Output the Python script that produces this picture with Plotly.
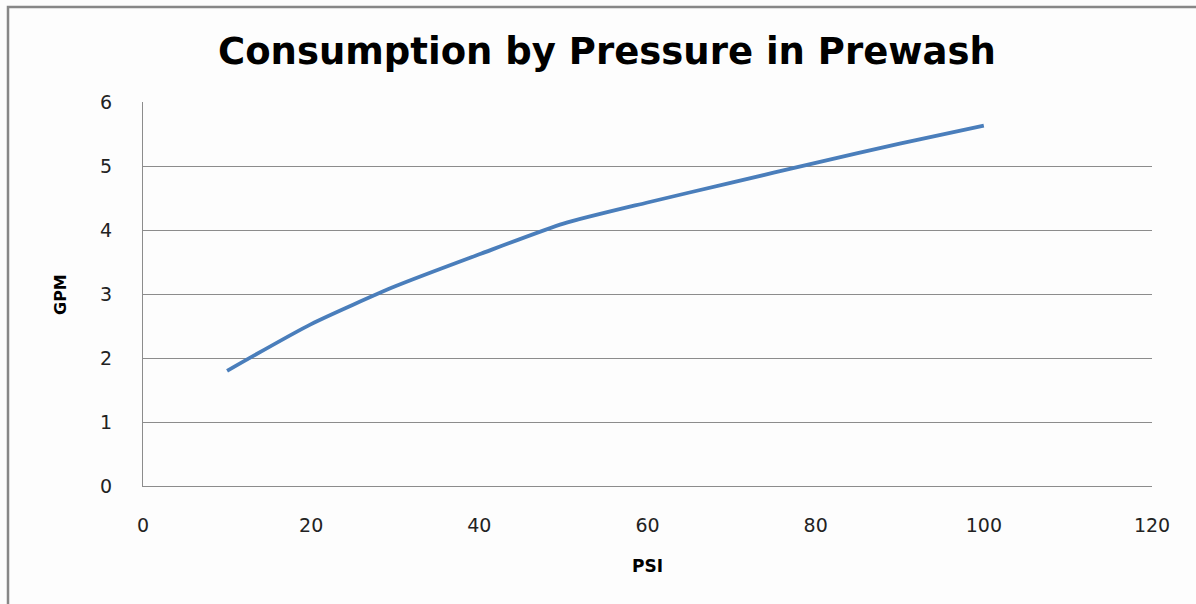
import plotly.graph_objects as go

psi = [10, 20, 30, 40, 50, 60, 70, 80, 90, 100]
gpm = [1.80, 2.53, 3.12, 3.62, 4.10, 4.43, 4.74, 5.05, 5.35, 5.63]

title_text = "Consumption by Pressure in Prewash"
x_title = "PSI"
y_title = "GPM"
x_ticks = [0, 20, 40, 60, 80, 100, 120]
y_ticks = [0, 1, 2, 3, 4, 5, 6]

W, H = 1196, 604
L, R, T, B = 143, 44, 102, 118
pw, ph = W - L - R, H - T - B

fig = go.Figure()
fig.add_trace(go.Scatter(
    x=psi, y=gpm, mode="lines",
    line=dict(color="#4a7ebb", width=3.8, shape="spline", smoothing=0.6),
    hoverinfo="x+y", showlegend=False,
))

grid = "#8c8c8c"
tickfont = dict(family="DejaVu Sans", size=19, color="#222222")

fig.update_layout(
    width=W, height=H,
    margin=dict(l=L, r=R, t=T, b=B, autoexpand=False),
    paper_bgcolor="#fdfdfd", plot_bgcolor="#fdfdfd",
    xaxis=dict(range=[0, 120], tickvals=x_ticks, ticks="", showgrid=False,
               showline=True, linecolor=grid, linewidth=1.3, zeroline=False,
               tickfont=tickfont, ticklabelstandoff=22, fixedrange=True),
    yaxis=dict(range=[0, 6], tickvals=y_ticks, ticks="", showgrid=True,
               gridcolor=grid, gridwidth=1.3, showline=True, linecolor=grid,
               linewidth=1.3, zeroline=False, tickfont=tickfont,
               ticklabelstandoff=26, fixedrange=True),
    annotations=[
        dict(text="<b>" + title_text + "</b>", xref="paper", yref="paper",
             x=(607 - L) / pw, y=(H - B - 51) / ph, showarrow=False,
             xanchor="center", yanchor="middle",
             font=dict(family="DejaVu Sans", size=37, color="#000000")),
        dict(text="<b>" + x_title + "</b>", xref="paper", yref="paper",
             x=0.5, y=(H - B - 566) / ph, showarrow=False,
             xanchor="center", yanchor="middle",
             font=dict(family="DejaVu Sans", size=17, color="#000000")),
        dict(text="<b>" + y_title + "</b>", xref="paper", yref="paper",
             x=(60 - L) / pw, y=(H - B - 295) / ph, showarrow=False,
             textangle=-90, xanchor="center", yanchor="middle",
             font=dict(family="DejaVu Sans", size=16, color="#000000")),
    ],
    shapes=[
        dict(type="rect", xref="paper", yref="paper",
             x0=(8 - L) / pw, x1=(W + 20 - L) / pw,
             y0=(H - B - (H + 20)) / ph, y1=(H - B - 7) / ph,
             line=dict(color="#878787", width=2.5), fillcolor="rgba(0,0,0,0)",
             layer="below"),
    ],
)

fig.write_html("out.html", config={"displayModeBar": False},
               post_script="document.body.style.margin='0';document.body.style.overflow='hidden';")
